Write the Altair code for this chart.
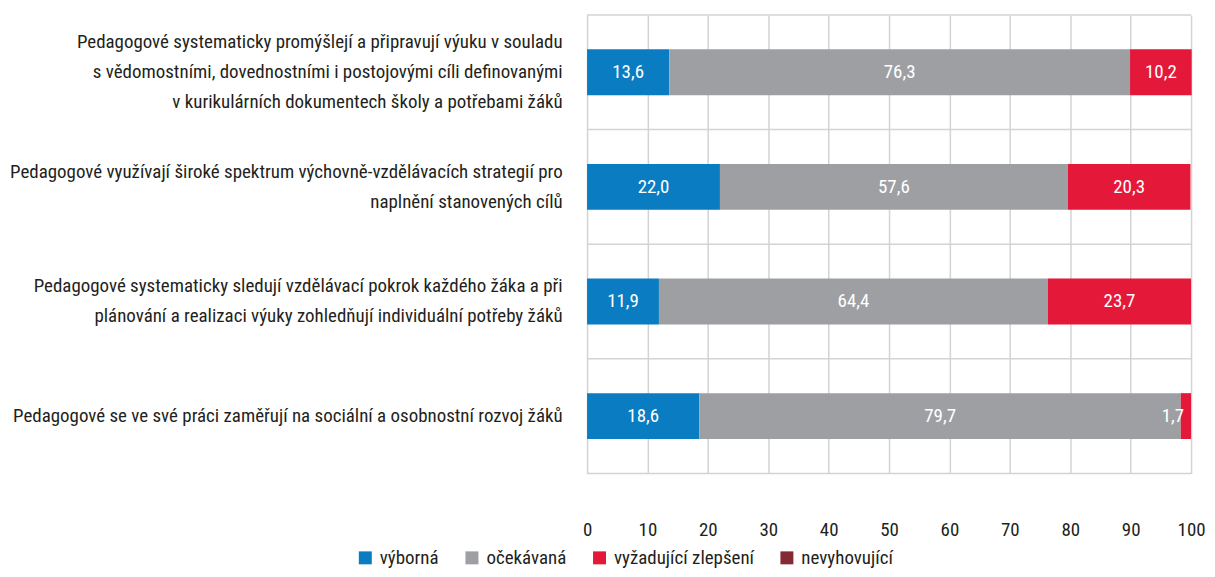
import altair as alt
import pandas as pd

categories = [
    "Pedagogové systematicky promýšlejí a připravují výuku v souladu|s vědomostními, dovednostními i postojovými cíli definovanými|v kurikulárních dokumentech školy a potřebami žáků",
    "Pedagogové využívají široké spektrum výchovně-vzdělávacích strategií pro|naplnění stanovených cílů",
    "Pedagogové systematicky sledují vzdělávací pokrok každého žáka a při|plánování a realizaci výuky zohledňují individuální potřeby žáků",
    "Pedagogové se ve své práci zaměřují na sociální a osobnostní rozvoj žáků",
]
series = ["výborná", "očekávaná", "vyžadující zlepšení", "nevyhovující"]
colors = ["#0a7cc1", "#9e9fa3", "#e4193a", "#832a35"]

vyborna = [13.6, 22.0, 11.9, 18.6]
ocekavana = [76.3, 57.6, 64.4, 79.7]
zlepseni = [10.2, 20.3, 23.7, 1.7]
nevyhovujici = [0.0, 0.0, 0.0, 0.0]

x_ticks = [0, 10, 20, 30, 40, 50, 60, 70, 80, 90, 100]
band_edges = [0, 1, 2, 3, 4]

rows = []
for s_i, (name, vals) in enumerate(zip(series, [vyborna, ocekavana, zlepseni, nevyhovujici])):
    for c, v in zip(categories, vals):
        rows.append({"cat": c, "series": name, "order": s_i, "value": v})
df = pd.DataFrame(rows)
edges_df = pd.DataFrame({"edge": band_edges})

FONT = "Roboto Condensed, DejaVu Sans Condensed, sans-serif"
GRID = "#d3d3d3"
TXT = "#231f20"
LINE_H = 30

y_scale = alt.Scale(paddingInner=0.6, paddingOuter=0.3)

x_enc = alt.X(
    "x0:Q", title=None,
    scale=alt.Scale(domain=[0, 100], nice=False),
    axis=alt.Axis(
        values=x_ticks, grid=True, gridColor=GRID, gridWidth=1.5,
        domain=False, ticks=False, labelFont=FONT, labelFontSize=19,
        labelColor=TXT, labelPadding=47, labelFlush=False,
    ),
)

rules = alt.Chart(edges_df).mark_rule(color=GRID, strokeWidth=1.5).encode(
    y=alt.Y("edge:Q", scale=alt.Scale(domain=[0, 4], nice=False, zero=False), axis=None),
    x=alt.datum(0),
    x2=alt.datum(100),
)

base = alt.Chart(df).transform_stack(
    stack="value", groupby=["cat"], as_=["x0", "x1"],
    sort=[alt.SortField("order", order="ascending")]
)

label_offset = {
    "condition": [
        {"test": "length(split(datum.value, '|')) == 3", "value": -LINE_H},
        {"test": "length(split(datum.value, '|')) == 2", "value": -LINE_H / 2},
    ],
    "value": 0,
}

bars = base.mark_bar().encode(
    y=alt.Y(
        "cat:N", sort=categories, title=None, scale=y_scale,
        axis=alt.Axis(
            grid=False, domain=False, ticks=False,
            labelExpr="split(datum.label, '|')",
            labelFont=FONT, labelFontSize=19, labelColor=TXT,
            labelLineHeight=LINE_H, labelPadding=25, labelAlign="right",
            labelLimit=700, labelOffset=label_offset,
        ),
    ),
    x=x_enc,
    x2="x1:Q",
    color=alt.Color(
        "series:N", sort=series,
        scale=alt.Scale(domain=series, range=colors),
        legend=alt.Legend(
            title=None, orient="none", direction="horizontal",
            legendX=-232, legendY=535, symbolType="square",
            symbolSize=169, symbolStrokeWidth=0, labelFont=FONT,
            labelFontSize=19, labelColor=TXT, columnPadding=23,
            symbolOffset=0, labelOffset=5,
        ),
    ),
    order=alt.Order("order:Q"),
)

text = base.transform_filter("datum.value > 0").transform_calculate(
    label="replace(format(datum.value, '.1f'), '.', ',')",
    labx="min((datum.x0 + datum.x1) / 2, 97)",
).mark_text(color="white", font=FONT, fontSize=19, baseline="middle").encode(
    y=alt.Y("cat:N", sort=categories, scale=y_scale, axis=None),
    x=alt.X("labx:Q"),
    text="label:N",
)

chart = alt.layer(rules, bars, text).resolve_scale(y="independent").properties(
    width=606, height=460,
    autosize=alt.AutoSizeParams(type="none"),
    padding={"left": 581, "top": 6, "right": 16, "bottom": 95},
).configure_view(strokeWidth=0)

chart.save("out.html", embed_options={"renderer": "svg", "actions": False})
